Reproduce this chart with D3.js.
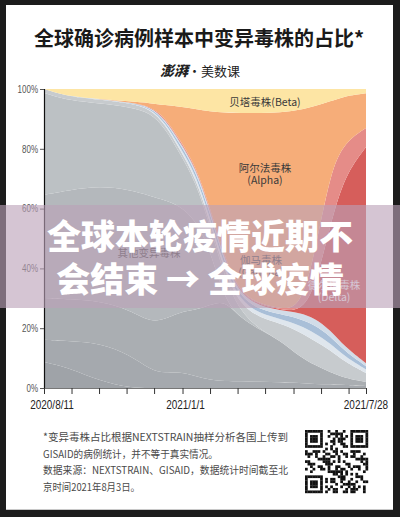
<!DOCTYPE html>
<html><head><meta charset="utf-8">
<script src="https://cdn.jsdelivr.net/npm/d3@7"></script>
<style>html,body{margin:0;padding:0;background:#1c1c1c;}svg{display:block}</style>
</head><body>
<svg id="c" width="400" height="517"></svg>
<script>
// ---- data (percent of sequenced samples), x = days since 2020/8/11 ----
const days        = [0, 28, 61, 94, 116, 132, 148, 165, 181, 197, 214, 236, 257, 279, 295, 312, 328, 351];
const otherDark1  = [8.7, 6.7, 2.3, 0, 0, 0, 0, 0, 0, 0, 0, 0, 0, 0, 0, 0, 0, 0];
const otherDark2  = [7.4, 9.0, 12.7, 11.0, 6.0, 5.0, 5.4, 4.0, 2.7, 2.3, 2.3, 2.0, 2.0, 1.7, 1.3, 1.3, 1.0, 0.7];
const otherMidLo  = [14.0, 14.0, 14.0, 15.0, 16.0, 18.0, 20.0, 22.0, 25.0, 27.1, 21.1, 17.4, 14.0, 8.7, 6.4, 4.0, 2.3, 1.3];
const otherMidHi  = [34.5, 36.5, 38.5, 40.2, 42.2, 39.9, 35.5, 30.2, 18.5, 0, 0, 0, 0, 0, 0, 0, 0, 0];
const otherMain   = [34.1, 29.9, 27.6, 27.6, 27.9, 24.1, 17.6, 13.0, 8.0, 7.4, 2.0, 0, 0, 0, 0, 0, 0, 0];
const otherLight  = [1.3, 1.3, 1.3, 1.3, 1.3, 1.3, 1.3, 1.3, 1.3, 2.0, 2.3, 4.0, 5.7, 8.4, 8.0, 7.4, 5.4, 3.0];
const gammaPale   = [0, 0, 0.1, 0.1, 0.2, 0.6, 0.9, 1.2, 1.4, 1.4, 1.2, 1.4, 1.5, 2.2, 2.7, 2.3, 1.8, 1.2];
const gammaBlue   = [0, 0, 0.1, 0.1, 0.3, 0.6, 1.0, 1.1, 1.4, 1.4, 1.1, 1.4, 1.5, 2.2, 2.7, 2.4, 1.7, 1.1];
const gammaLight  = [0, 0, 0, 0.1, 0.2, 0.5, 0.8, 1.0, 1.2, 1.2, 1.0, 1.2, 1.3, 2.0, 2.3, 2.0, 1.5, 1.0];
const delta       = [0, 0, 0, 0, 0.2, 0.3, 0.3, 0.3, 0.4, 0.4, 0.3, 0.3, 0.3, 0.3, 9.4, 35.1, 57.5, 72.2];
const deltaSub    = [0, 0, 0, 0, 0, 0.2, 0.3, 0.3, 0.3, 0.3, 0.3, 0.3, 0.3, 1.0, 11.7, 17.7, 11.0, 6.4];
const alpha       = [0, 0, 0, 0.3, 1.0, 4.2, 11.0, 18.7, 32.2, 48.6, 60.2, 63.9, 65.4, 66.6, 49.8, 23.5, 15.4, 11.6];
const beta        = [0, 2.6, 3.3, 4.2, 4.7, 5.4, 5.9, 6.7, 7.5, 7.9, 8.0, 8.0, 7.9, 7.0, 5.7, 4.2, 2.3, 1.4];

const xTickDays   = [0, 30, 60, 90, 120, 151, 181, 211, 241, 272, 302, 332, 351];
const xLabelDays  = [0, 151, 351];
const xLabels     = ["2020/8/11", "2021/1/1", "2021/7/28"];
const yTicks      = [0, 0.2, 0.4, 0.6, 0.8, 1.0];

const seriesKeys = ["otherDark1","otherDark2","otherMidLo","otherMidHi","otherMain","otherLight","gammaPale","gammaBlue","gammaLight","delta","deltaSub","alpha","beta"];
const seriesVals = [otherDark1,otherDark2,otherMidLo,otherMidHi,otherMain,otherLight,gammaPale,gammaBlue,gammaLight,delta,deltaSub,alpha,beta];
const colors = {
  otherDark1:"#9fa3a8", otherDark2:"#a5a9ae", otherMidLo:"#aaaeb2", otherMidHi:"#b4b8bc", otherMain:"#bcc1c4", otherLight:"#c7cbce",
  gammaPale:"#dfe6ed", gammaBlue:"#a9bfd8", gammaLight:"#d2dce8",
  delta:"#d65e5b", deltaSub:"#e58c88", alpha:"#f6ad79", beta:"#fde5a4"
};

const rows = days.map((d, i) => {
  const r = {day: d};
  seriesKeys.forEach((k, j) => r[k] = seriesVals[j][i]);
  return r;
});

const svg = d3.select("#c");
const W = 400, H = 517;
svg.append("rect").attr("width", W).attr("height", H).attr("fill", "#1c1c1c");
svg.append("rect").attr("x", 6).attr("y", 5).attr("width", 387).attr("height", 504).attr("fill", "#ffffff");
svg.append("line").attr("x1", 6).attr("x2", 393).attr("y1", 509.5).attr("y2", 509.5).attr("stroke", "#c8c8c8");

const cjk = "'Noto Sans CJK SC', 'Noto Sans', sans-serif";
const latin = "'Liberation Sans', Arial, sans-serif";

// condense a text horizontally (narrow-font look)
function condense(sel, k) {
  sel.each(function() {
    const w = this.getComputedTextLength();
    d3.select(this).attr("textLength", w * k).attr("lengthAdjust", "spacingAndGlyphs");
  });
}

// title
svg.append("text").attr("x", 199).attr("y", 46).attr("text-anchor", "middle")
  .attr("font-family", cjk).attr("font-size", 20).attr("font-weight", 700).attr("fill", "#1a1a1a")
  .text("全球确诊病例样本中变异毒株的占比*");
const sub = svg.append("text").attr("x", 200).attr("y", 76).attr("text-anchor", "middle")
  .attr("font-family", cjk).attr("fill", "#222");
sub.append("tspan").attr("font-size", 14).attr("font-weight", 900).attr("font-style", "italic").text("澎湃");
sub.append("tspan").attr("font-size", 13).attr("font-weight", 400).text("·美数课");

// scales
const x = d3.scaleLinear().domain([0, 351]).range([44, 366]);
const y = d3.scaleLinear().domain([0, 1]).range([388, 89]);

const stack = d3.stack().keys(seriesKeys).offset(d3.stackOffsetExpand);
const layers = stack(rows);
const area = d3.area()
  .x(d => x(d.data.day)).y0(d => y(d[0])).y1(d => y(d[1]))
  .curve(d3.curveBasis);

svg.append("g").selectAll("path").data(layers).join("path")
  .attr("d", area).attr("fill", d => colors[d.key]);

// axes
const yAxis = svg.append("g").attr("transform", "translate(44,0)")
  .call(d3.axisLeft(y).tickValues(yTicks).tickFormat(d3.format(".0%")).tickSize(4).tickPadding(2));
yAxis.select(".domain").attr("stroke", "#111").attr("stroke-width", 1.2);
yAxis.selectAll(".tick line").attr("stroke", "#555");
yAxis.selectAll(".tick text").attr("font-family", latin).attr("font-size", 10).attr("fill", "#555")
  .call(condense, 0.8);

const xAxis = svg.append("g").attr("transform", "translate(0,388)")
  .call(d3.axisBottom(x).tickValues(xTickDays).tickFormat("").tickSize(6).tickSizeOuter(0));
xAxis.select(".domain").attr("stroke", "#777");
xAxis.selectAll(".tick line").attr("stroke", "#333");

svg.append("g").selectAll("text").data(xLabelDays).join("text")
  .attr("x", (d, i) => x(d) + (i === 0 ? 8 : i === 1 ? 3 : 0))
  .attr("y", 409).attr("text-anchor", "middle")
  .attr("font-family", latin).attr("font-size", 12).attr("fill", "#222")
  .text((d, i) => xLabels[i])
  .call(condense, 0.83);

// layer labels
const lab = (tx, ty, t, fill, fs) => svg.append("text").attr("x", tx).attr("y", ty)
  .attr("text-anchor", "middle").attr("font-family", cjk).attr("font-size", fs || 10.5)
  .attr("fill", fill).text(t);
lab(265, 106, "贝塔毒株(Beta)", "#3a3a3a");
lab(265, 172, "阿尔法毒株", "#3a3a3a");
lab(265, 184, "(Alpha)", "#3a3a3a");
lab(149, 257, "其他变异毒株", "#444");
lab(261, 264, "伽马毒株", "#444");
lab(261, 276, "(Gamma)", "#444");
lab(334, 289, "德尔塔毒株", "#ffffff");
lab(334, 301, "(Delta)", "#ffffff");

// footnote
const notes = [
  ["*变异毒株占比根据NEXTSTRAIN抽样分析各国上传到", 441, 245],
  ["GISAID的病例统计，并不等于真实情况。", 457.5, 175],
  ["数据来源：NEXTSTRAIN、GISAID，数据统计时间截至北", 474, 245],
  ["京时间2021年8月3日。", 490.5, 97]
];
svg.append("g").selectAll("text").data(notes).join("text")
  .attr("x", 43).attr("y", d => d[1]).attr("font-family", cjk).attr("font-size", 10.5)
  .attr("fill", "#4a4a4a").attr("textLength", d => d[2]).attr("lengthAdjust", "spacingAndGlyphs")
  .text(d => d[0]);

// QR-like code block
const qr = svg.append("g").attr("transform", "translate(305,430)");
const N = 25, m = 63 / N;
const finder = (r, c) => {
  for (const [fr, fc] of [[0,0],[0,18],[18,0]]) {
    const rr = r - fr, cc = c - fc;
    if (rr >= 0 && rr < 7 && cc >= 0 && cc < 7) {
      return (rr === 0 || rr === 6 || cc === 0 || cc === 6 || (rr >= 2 && rr <= 4 && cc >= 2 && cc <= 4)) ? 1 : 0;
    }
    if (rr >= -1 && rr <= 7 && cc >= -1 && cc <= 7) return 0;
  }
  return -1;
};
const cells = [];
for (let r = 0; r < N; r++) for (let c = 0; c < N; c++) {
  let f = finder(r, c);
  if (f === -1) f = ((r * 7 + c * 11 + (r * c) % 5) % 3 === 0 || (r + c * 3) % 7 === 1) ? 1 : 0;
  if (f) cells.push([r, c]);
}
qr.selectAll("rect").data(cells).join("rect")
  .attr("x", d => d[1] * m).attr("y", d => d[0] * m)
  .attr("width", m + 0.2).attr("height", m + 0.2).attr("fill", "#111");

// overlay banner
svg.append("rect").attr("x", 0).attr("y", 205).attr("width", 400).attr("height", 103)
  .attr("fill", "rgb(187,162,184)").attr("fill-opacity", 0.62);
const big = (ty, t) => svg.append("text").attr("x", 200).attr("y", ty).attr("text-anchor", "middle")
  .attr("font-family", cjk).attr("font-size", 34).attr("font-weight", 900).attr("fill", "#ffffff").text(t);
big(249, "全球本轮疫情近期不");
big(292, "会结束 → 全球疫情");
</script>
</body></html>
